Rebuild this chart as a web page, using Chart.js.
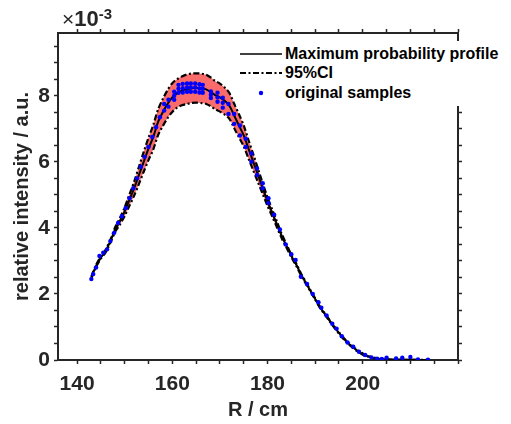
<!DOCTYPE html>
<html>
<head>
<meta charset="utf-8">
<script src="https://cdn.jsdelivr.net/npm/chart.js@4.4.1/dist/chart.umd.min.js"></script>
<style>
  body { margin: 0; background: #fff; }
  #wrap { position: relative; width: 511px; height: 424px; font-family: "Liberation Sans", Arial, sans-serif; }
  #mult { position: absolute; left: 62px; top: 6px; color: #262626; white-space: nowrap; }
  #mult .x { font-size: 21px; font-weight: normal; }
  #mult .ten { font-size: 22px; font-weight: bold; }
  #mult sup { font-size: 15px; font-weight: bold; position: relative; top: -1px; }
  #legend { position: absolute; left: 236px; top: 41px; width: 266px; height: 65px; background: #fff; }
  .row { position: absolute; left: 4px; height: 20px; display: flex; align-items: center; }
  .row svg { width: 44px; height: 20px; }
  .row span { font-size: 16px; font-weight: bold; color: #000; margin-left: 1px; white-space: nowrap; }
</style>
</head>
<body>
<div id="wrap">
  <canvas id="c" width="511" height="424"></canvas>
  <div id="mult"><span class="x">×</span><span class="ten">10</span><sup>-3</sup></div>
  <div id="legend">
    <div class="row" style="top:3px"><svg><line x1="0" y1="10" x2="42" y2="10" stroke="#000" stroke-width="1.5"/></svg><span>Maximum probability profile</span></div>
    <div class="row" style="top:22px"><svg><line x1="0" y1="10" x2="42" y2="10" stroke="#000" stroke-width="2.2" stroke-dasharray="6,2.5,2,2.5"/></svg><span>95%CI</span></div>
    <div class="row" style="top:42px"><svg><circle cx="21" cy="10" r="2.2" fill="#0000ff"/></svg><span>original samples</span></div>
  </div>
</div>
<script>
// radius R (cm)
const rGrid = [143, 144, 145, 146, 147, 148, 149, 150, 151, 152, 153, 154, 155, 156, 157, 158, 159, 160,
  161, 162, 163, 164, 165, 166, 167, 168, 169, 170, 171, 172, 173, 174, 175, 176, 177, 178, 179, 180,
  181, 182, 183, 184, 185, 186, 187, 188, 189, 190, 191, 192, 193, 194, 195, 196, 197, 198, 199, 200,
  201, 202, 203, 204, 205, 207, 209, 211, 213, 214];
// intensities in units of 1e-3
const maxProb = [2.50, 2.85, 3.10, 3.30, 3.60, 3.95, 4.20, 4.50, 4.85, 5.20, 5.60, 6.00, 6.40, 6.75, 7.20, 7.50, 7.75, 7.95,
  8.08, 8.15, 8.20, 8.23, 8.24, 8.23, 8.20, 8.12, 8.02, 7.95, 7.85, 7.70, 7.40, 7.10, 6.80, 6.40, 6.00, 5.60, 5.20, 4.80,
  4.45, 4.10, 3.75, 3.45, 3.15, 2.90, 2.60, 2.35, 2.10, 1.85, 1.60, 1.40, 1.20, 1.00, 0.82, 0.65, 0.50, 0.38, 0.27, 0.18,
  0.12, 0.07, 0.04, 0.025, 0.015, 0.008, 0.005, 0.003, 0.002, 0.002];
const ciUpper = [2.53, 2.88, 3.13, 3.34, 3.64, 4.02, 4.29, 4.62, 5.01, 5.40, 5.85, 6.30, 6.73, 7.11, 7.58, 7.90, 8.17, 8.38,
  8.50, 8.58, 8.64, 8.67, 8.68, 8.67, 8.64, 8.56, 8.45, 8.37, 8.25, 8.08, 7.76, 7.44, 7.10, 6.66, 6.23, 5.79, 5.35, 4.92,
  4.55, 4.18, 3.81, 3.50, 3.19, 2.93, 2.63, 2.37, 2.12, 1.87, 1.62, 1.42, 1.22, 1.02, 0.84, 0.67, 0.52, 0.40, 0.29, 0.20,
  0.13, 0.08, 0.05, 0.03, 0.02, 0.012, 0.008, 0.006, 0.004, 0.004];
const ciLower = [2.47, 2.82, 3.07, 3.26, 3.55, 3.88, 4.10, 4.36, 4.67, 4.98, 5.33, 5.70, 6.05, 6.37, 6.80, 7.08, 7.32, 7.51,
  7.64, 7.71, 7.75, 7.78, 7.79, 7.78, 7.76, 7.69, 7.59, 7.52, 7.43, 7.30, 7.02, 6.74, 6.47, 6.10, 5.74, 5.38, 5.02, 4.66,
  4.34, 4.01, 3.68, 3.40, 3.11, 2.86, 2.57, 2.32, 2.08, 1.83, 1.58, 1.38, 1.18, 0.98, 0.80, 0.63, 0.48, 0.36, 0.25, 0.16,
  0.11, 0.06, 0.03, 0.02, 0.01, 0.004, 0.002, 0.001, 0.000, 0.000];

// original samples (several per radius near the peak)
const sampleR = [143.0, 143.4, 144.0, 144.7, 145.5, 146.3, 147.0, 147.8, 148.6, 149.4, 150.2, 151.0, 151.8, 152.6,
  153.4, 154.2, 155.0, 155.8, 156.6, 157.4, 158.3, 158.3, 159.2, 159.2, 160.4, 160.4, 160.4,
  161.3, 161.3, 161.3, 162.2, 162.2, 162.2, 163.1, 163.1, 163.1, 163.9, 163.9, 163.9, 164.8, 164.8, 164.8,
  165.7, 165.7, 165.7, 166.4, 166.4, 166.4, 168.1, 168.1, 168.1, 169.5, 169.5, 169.5, 170.6, 170.6, 170.6,
  171.8, 171.8, 173.0, 173.0, 174.2, 174.2, 175.4, 175.4, 176.6, 176.6, 177.8, 177.8, 179.0, 179.0,
  180.2, 180.2, 181.4, 182.6, 183.8, 185.0, 185.9, 187.0, 188.3, 189.5, 190.7, 191.3, 192.4, 193.6,
  194.5, 195.6, 196.8, 198.0, 199.2, 200.5, 201.8, 203.0, 204.0, 205.0, 207.0, 208.3, 210.0, 211.6, 213.7];
const sampleY = [2.45, 2.60, 2.80, 3.15, 3.25, 3.35, 3.60, 3.85, 4.15, 4.35, 4.60, 4.90, 5.20, 5.50,
  5.85, 6.15, 6.45, 6.75, 7.05, 7.35, 7.55, 7.75, 7.67, 7.88, 7.88, 8.00, 8.12,
  8.09, 8.21, 8.33, 8.10, 8.23, 8.36, 8.12, 8.25, 8.37, 8.12, 8.25, 8.37, 8.12, 8.25, 8.37,
  8.10, 8.22, 8.35, 8.09, 8.21, 8.33, 7.93, 8.03, 8.13, 7.82, 7.95, 8.09, 7.64, 7.79, 7.94,
  7.45, 7.75, 7.15, 7.45, 6.80, 7.10, 6.45, 6.70, 6.00, 6.25, 5.60, 5.80, 5.20, 5.35,
  4.75, 4.90, 4.40, 3.95, 3.50, 3.20, 3.03, 2.52, 2.30, 2.00, 1.75, 1.58, 1.35, 1.10,
  0.95, 0.72, 0.53, 0.40, 0.25, 0.15, 0.08, 0.04, 0.03, 0.07, 0.05, 0.07, 0.09, 0.02, 0.01];

const xTicks = [140, 160, 180, 200];
const yTicks = [0, 2, 4, 6, 8];

const axisColor = "#262626";
const tickFont = { family: "Liberation Sans", size: 21, weight: "bold" };
const titleFont = { family: "Liberation Sans", size: 20, weight: "bold" };
const pts = (xs, ys) => xs.map((x, i) => ({ x: x, y: ys[i] }));

function xAxis(pos, h, showLabels) {
  return {
    type: "linear", position: pos, min: 136, max: 220,
    afterFit: s => { s.height = h; },
    border: { display: true, color: axisColor, width: 2 },
    grid: { drawOnChartArea: false, drawTicks: true, tickLength: 4, tickWidth: 1.5, tickColor: axisColor },
    ticks: {
      stepSize: 5, includeBounds: false, autoSkip: false, maxRotation: 0, padding: 8,
      color: axisColor, font: tickFont,
      callback: v => (showLabels && xTicks.includes(v)) ? String(v) : ""
    },
    title: showLabels ? { display: true, text: "R / cm", color: axisColor, font: titleFont, padding: { top: 0, bottom: 2 } } : { display: false }
  };
}
function yAxis(pos, w, showLabels) {
  return {
    type: "linear", position: pos, min: 0, max: 9.9,
    afterFit: s => { s.width = w; },
    border: { display: true, color: axisColor, width: 2 },
    grid: { drawOnChartArea: false, drawTicks: true, tickLength: 4, tickWidth: 1.5, tickColor: axisColor },
    ticks: {
      stepSize: 0.5, includeBounds: false, autoSkip: false, padding: 4,
      color: axisColor, font: tickFont,
      callback: v => (showLabels && yTicks.includes(v)) ? String(v) : ""
    },
    title: showLabels ? { display: true, text: "relative intensity / a.u.", color: axisColor, font: titleFont, padding: { top: 10, bottom: 0 } } : { display: false }
  };
}

new Chart(document.getElementById("c"), {
  type: "line",
  data: {
    datasets: [
      { label: "95%CI upper", data: pts(rGrid, ciUpper), borderColor: "#000", borderWidth: 2.2,
        borderDash: [6, 2.5, 2, 2.5], pointRadius: 0, fill: false, tension: 0.3, order: 3 },
      { label: "95%CI lower", data: pts(rGrid, ciLower), borderColor: "#000", borderWidth: 2.2,
        borderDash: [6, 2.5, 2, 2.5], pointRadius: 0, fill: "-1", backgroundColor: "rgb(250,108,108)", tension: 0.3, order: 3 },
      { label: "Maximum probability profile", data: pts(rGrid, maxProb), borderColor: "#000", borderWidth: 2,
        pointRadius: 0, fill: false, tension: 0.3, order: 2 },
      { label: "original samples", data: pts(sampleR, sampleY), showLine: false, pointRadius: 2.2,
        pointBackgroundColor: "#0000ff", pointBorderWidth: 0, borderColor: "#0000ff", order: 1 }
    ]
  },
  options: {
    responsive: false, animation: false, devicePixelRatio: 1,
    layout: { padding: 0 },
    plugins: { legend: { display: false }, tooltip: { enabled: false }, filler: { drawTime: "beforeDatasetsDraw" } },
    scales: {
      x: xAxis("bottom", 64, true),
      x2: xAxis("top", 33, false),
      y: yAxis("left", 58, true),
      y2: yAxis("right", 53, false)
    }
  }
});
</script>
</body>
</html>
